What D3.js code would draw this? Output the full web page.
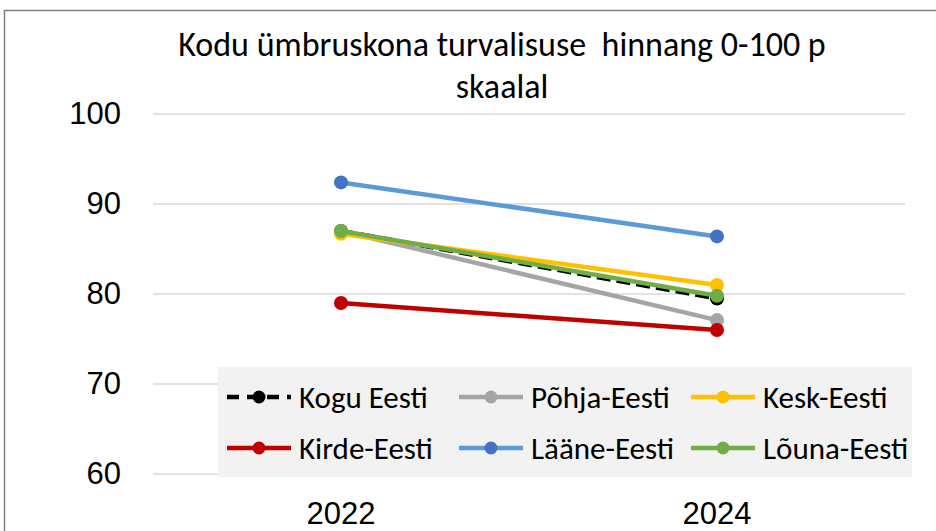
<!DOCTYPE html>
<html><head><meta charset="utf-8">
<script src="https://cdn.jsdelivr.net/npm/d3@7"></script>
<style>
body{margin:0;background:#fff;}
svg{font-family:Carlito,"Liberation Sans Narrow",Lato,sans-serif;}
</style></head>
<body><svg id="c" width="936" height="531"></svg>
<script>
const years = ["2022","2024"];
const seriesNames = ["Kogu Eesti","Põhja-Eesti","Kesk-Eesti","Kirde-Eesti","Lääne-Eesti","Lõuna-Eesti"];
const seriesColors = ["#000000","#a5a5a5","#ffc000","#c00000","#4472c4","#70ad47"];
const lineColors = ["#000000","#a5a5a5","#ffc000","#c00000","#5b9bd5","#70ad47"];
const kogu = [87.0, 79.5];
const pohja = [87.0, 77.1];
const kesk = [86.7, 81.0];
const kirde = [79.0, 76.0];
const laane = [92.4, 86.4];
const louna = [87.0, 79.8];
const yTicks = [60,70,80,90,100];
const titleLines = ["Kodu ümbruskona turvalisuse\u00a0 hinnang 0-100 p","skaalal"];

const allValues = [kogu,pohja,kesk,kirde,laane,louna];
const svg = d3.select("#c");
svg.append("rect").attr("x",4.5).attr("y",10.5).attr("width",940).attr("height",540)
  .attr("fill","#fff").attr("stroke","#7f7f7f").attr("stroke-width",1.5);

const x = d3.scaleBand().domain(years).range([153,905]);
const y = d3.scaleLinear().domain([60,100]).range([474,114]);

// gridlines
svg.append("g").selectAll("line").data(yTicks).join("line")
  .attr("x1",153).attr("x2",905).attr("y1",d=>y(d)).attr("y2",d=>y(d))
  .attr("stroke","#d9d9d9").attr("stroke-width",1.5);

// y axis labels
const yAx = svg.append("g").attr("transform","translate(121,0)")
  .call(d3.axisLeft(y).tickValues(yTicks).tickSize(0).tickPadding(0));
yAx.select(".domain").remove();
yAx.selectAll("text").attr("font-size",31).attr("fill","#000").attr("font-family",null);

// x axis labels
const xAx = svg.append("g").attr("transform","translate(0,524)")
  .call(d3.axisBottom(x).tickSize(0).tickPadding(0));
xAx.select(".domain").remove();
xAx.selectAll("text").attr("font-size",31).attr("fill","#000").attr("font-family",null).attr("dy","0");

// title
svg.append("g").selectAll("text").data(titleLines).join("text")
  .attr("x",502).attr("y",(d,i)=>56+i*42).attr("text-anchor","middle")
  .attr("font-size",34).attr("fill","#000").text(d=>d);

// legend box
const lg = svg.append("g");
lg.append("rect").attr("x",218).attr("y",367).attr("width",694).attr("height",110).attr("fill","#f2f2f2");

const cx = d=>x(d)+x.bandwidth()/2;
const line = d3.line().x((d,i)=>cx(years[i])).y(d=>y(d));

const series = seriesNames.map((n,i)=>({name:n,vals:allValues[i],color:seriesColors[i],lc:lineColors[i]}));
const gS = svg.append("g");
series.forEach((s,i)=>{
  const g = gS.append("g");
  g.append("path").attr("d",line(s.vals)).attr("fill","none").attr("stroke",s.lc)
    .attr("stroke-width",4.5).attr("stroke-dasharray",i===0?"14,6":null);
  g.selectAll("circle").data(s.vals).join("circle")
    .attr("cx",(d,j)=>cx(years[j])).attr("cy",d=>y(d)).attr("r",7).attr("fill",s.color);
});

// legend items
const colX = [227,459,691];
const rowY = [397,448];
series.forEach((s,i)=>{
  const lx = colX[i%3], ly = rowY[Math.floor(i/3)];
  const g = lg.append("g");
  g.append("line").attr("x1",lx).attr("x2",lx+64).attr("y1",ly).attr("y2",ly)
    .attr("stroke",s.lc).attr("stroke-width",4.5).attr("stroke-dasharray",i===0?"12,8":null);
  g.append("circle").attr("cx",lx+32).attr("cy",ly).attr("r",6.5).attr("fill",s.color);
  g.append("text").attr("x",lx+72).attr("y",ly).attr("dy","0.35em").attr("font-size",31).attr("fill","#000").text(s.name);
});
</script></body></html>
